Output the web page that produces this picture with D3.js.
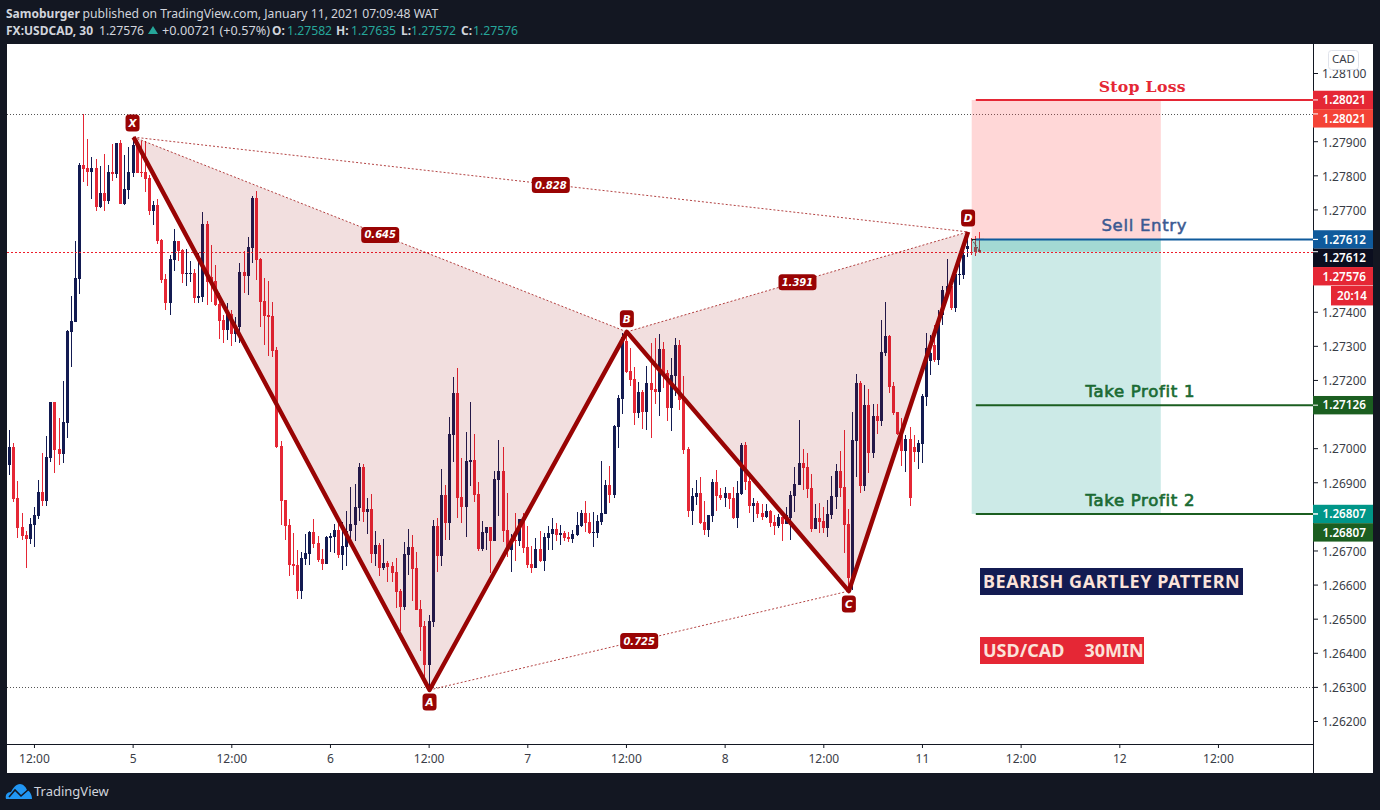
<!DOCTYPE html>
<html><head><meta charset="utf-8">
<style>html,body{margin:0;padding:0;background:#131722;overflow:hidden}svg{display:block}</style>
<script src="https://cdn.jsdelivr.net/npm/d3@7/dist/d3.min.js"></script></head><body>
<svg id="c" width="1380" height="810" xmlns="http://www.w3.org/2000/svg"></svg>
<script>
const highs=[1.27053,1.27015,1.26903,1.26810,1.26757,1.26795,1.26827,1.26907,1.26986,1.27036,
1.27135,1.27135,1.27088,1.27197,1.27346,1.27446,1.27607,1.27836,1.27980,1.27906,
1.27854,1.27848,1.27827,1.27862,1.27830,1.27892,1.27895,1.27904,1.27860,1.27883,
1.27912,1.27904,1.27901,1.27901,1.27801,1.27725,1.27731,1.27613,1.27511,1.27566,
1.27643,1.27607,1.27584,1.27584,1.27549,1.27525,1.27572,1.27692,1.27666,1.27596,
1.27537,1.27455,1.27390,1.27426,1.27405,1.27385,1.27543,1.27578,1.27619,1.27739,
1.27754,1.27558,1.27499,1.27490,1.27429,1.27297,1.27021,1.26848,1.26792,1.26751,
1.26702,1.26696,1.26748,1.26757,1.26792,1.26742,1.26705,1.26742,1.26751,1.26778,
1.26787,1.26784,1.26816,1.26886,1.26895,1.26956,1.26953,1.26854,1.26866,1.26757,
1.26722,1.26734,1.26669,1.26666,1.26678,1.26587,1.26725,1.26763,1.26745,1.26696,
1.26555,1.26493,1.26511,1.26789,1.26795,1.26939,1.26892,1.27091,1.27209,1.27235,
1.26971,1.27047,1.27135,1.27042,1.26901,1.26787,1.26769,1.26769,1.26933,1.27024,
1.27003,1.26869,1.26748,1.26810,1.26792,1.26810,1.26772,1.26713,1.26737,1.26757,
1.26751,1.26772,1.26795,1.26781,1.26775,1.26757,1.26754,1.26760,1.26813,1.26819,
1.26845,1.26810,1.26813,1.26804,1.26962,1.26907,1.26948,1.27068,1.27156,1.27338,
1.27338,1.27294,1.27238,1.27194,1.27171,1.27241,1.27308,1.27323,1.27335,1.27311,
1.27229,1.27264,1.27323,1.27317,1.27212,1.27003,1.26883,1.26907,1.26916,1.26845,
1.26804,1.26909,1.26936,1.26883,1.26886,1.26869,1.26886,1.26903,1.27015,1.27018,
1.26916,1.26854,1.26845,1.26836,1.26836,1.26819,1.26804,1.26807,1.26798,1.26827,
1.26874,1.26945,1.27083,1.26998,1.26986,1.26924,1.26836,1.26839,1.26827,1.26848,
1.26918,1.26953,1.26992,1.27053,1.26822,1.27106,1.27217,1.27197,1.27185,1.27174,
1.27129,1.27129,1.27376,1.27429,1.27332,1.27194,1.27106,1.27088,1.27039,1.27062,
1.27039,1.27024,1.27159,1.27338,1.27332,1.27361,1.27405,1.27475,1.27555,1.27493,
1.27525,1.27558,1.27599,1.27619,1.27616,1.27622,1.27635];
const lows=[1.26921,1.26842,1.26737,1.26731,1.26649,1.26719,1.26710,1.26792,1.26830,1.26830,
1.26959,1.26927,1.26950,1.26956,1.27030,1.27238,1.27370,1.27452,1.27780,1.27769,
1.27731,1.27695,1.27704,1.27695,1.27716,1.27783,1.27792,1.27716,1.27713,1.27731,
1.27795,1.27807,1.27795,1.27751,1.27684,1.27654,1.27599,1.27484,1.27405,1.27390,
1.27519,1.27549,1.27484,1.27475,1.27487,1.27426,1.27426,1.27429,1.27420,1.27429,
1.27417,1.27320,1.27308,1.27317,1.27300,1.27311,1.27308,1.27455,1.27449,1.27543,
1.27493,1.27355,1.27303,1.27270,1.27267,1.27000,1.26775,1.26731,1.26625,1.26628,
1.26558,1.26558,1.26658,1.26658,1.26707,1.26666,1.26643,1.26661,1.26696,1.26693,
1.26678,1.26643,1.26655,1.26728,1.26728,1.26787,1.26784,1.26748,1.26663,1.26655,
1.26625,1.26643,1.26608,1.26608,1.26531,1.26464,1.26525,1.26628,1.26552,1.26525,
1.26405,1.26329,1.26300,1.26476,1.26637,1.26655,1.26731,1.26731,1.26959,1.26795,
1.26781,1.26740,1.26889,1.26842,1.26699,1.26699,1.26702,1.26634,1.26728,1.26801,
1.26725,1.26681,1.26637,1.26669,1.26713,1.26693,1.26649,1.26634,1.26649,1.26666,
1.26640,1.26702,1.26702,1.26728,1.26716,1.26728,1.26725,1.26722,1.26742,1.26769,
1.26754,1.26748,1.26710,1.26737,1.26775,1.26807,1.26839,1.26854,1.27000,1.27100,
1.27220,1.27182,1.27068,1.27088,1.27056,1.27053,1.27030,1.27129,1.27094,1.27176,
1.27080,1.27050,1.27153,1.27112,1.26983,1.26798,1.26775,1.26834,1.26778,1.26745,
1.26740,1.26784,1.26816,1.26848,1.26827,1.26822,1.26792,1.26766,1.26863,1.26877,
1.26810,1.26784,1.26795,1.26789,1.26795,1.26769,1.26745,1.26766,1.26728,1.26778,
1.26731,1.26813,1.26892,1.26877,1.26854,1.26754,1.26763,1.26751,1.26751,1.26740,
1.26792,1.26822,1.26857,1.26693,1.26578,1.26584,1.26915,1.26869,1.26875,1.26927,
1.26971,1.27042,1.27065,1.27270,1.27162,1.27097,1.27039,1.26948,1.26930,1.26830,
1.26959,1.26939,1.26956,1.27123,1.27215,1.27253,1.27244,1.27361,1.27446,1.27405,
1.27399,1.27478,1.27496,1.27560,1.27566,1.27563,1.27572];
const opens=[1.26950,1.27003,1.26854,1.26769,1.26745,1.26734,1.26775,1.26801,1.26871,1.26845,
1.26971,1.27135,1.26998,1.26983,1.27074,1.27341,1.27370,1.27496,1.27830,1.27821,
1.27810,1.27821,1.27707,1.27748,1.27725,1.27810,1.27804,1.27895,1.27716,1.27757,
1.27807,1.27889,1.27810,1.27810,1.27792,1.27695,1.27713,1.27610,1.27496,1.27426,
1.27552,1.27607,1.27581,1.27511,1.27511,1.27514,1.27440,1.27443,1.27657,1.27502,
1.27490,1.27423,1.27376,1.27346,1.27393,1.27335,1.27355,1.27517,1.27505,1.27587,
1.27734,1.27555,1.27432,1.27390,1.27387,1.27288,1.27006,1.26848,1.26775,1.26661,
1.26658,1.26581,1.26675,1.26690,1.26754,1.26722,1.26675,1.26661,1.26737,1.26740,
1.26760,1.26687,1.26710,1.26757,1.26775,1.26825,1.26945,1.26813,1.26822,1.26690,
1.26716,1.26649,1.26663,1.26655,1.26637,1.26581,1.26534,1.26687,1.26710,1.26649,
1.26528,1.26479,1.26364,1.26490,1.26772,1.26684,1.26863,1.26781,1.27039,1.27162,
1.26857,1.26827,1.26959,1.26965,1.26866,1.26705,1.26751,1.26769,1.26728,1.26907,
1.26933,1.26760,1.26702,1.26731,1.26728,1.26792,1.26710,1.26661,1.26649,1.26705,
1.26669,1.26737,1.26748,1.26763,1.26745,1.26751,1.26740,1.26734,1.26745,1.26772,
1.26810,1.26784,1.26751,1.26751,1.26784,1.26807,1.26892,1.26863,1.27062,1.27144,
1.27314,1.27226,1.27203,1.27103,1.27165,1.27106,1.27191,1.27174,1.27165,1.27291,
1.27220,1.27118,1.27212,1.27303,1.27144,1.26998,1.26816,1.26857,1.26869,1.26784,
1.26760,1.26801,1.26901,1.26863,1.26854,1.26869,1.26854,1.26795,1.26866,1.27009,
1.26904,1.26830,1.26839,1.26810,1.26798,1.26816,1.26784,1.26772,1.26798,1.26778,
1.26795,1.26860,1.26892,1.26956,1.26945,1.26883,1.26763,1.26795,1.26787,1.26766,
1.26804,1.26857,1.26933,1.26886,1.26778,1.26619,1.27021,1.27191,1.26889,1.27127,
1.26986,1.27094,1.27080,1.27279,1.27329,1.27182,1.27106,1.27042,1.26992,1.27027,
1.27003,1.26989,1.27012,1.27150,1.27255,1.27303,1.27258,1.27390,1.27458,1.27475,
1.27411,1.27508,1.27508,1.27584,1.27575,1.27590,1.27582];
const closes=[1.27003,1.26851,1.26766,1.26742,1.26734,1.26778,1.26804,1.26871,1.26845,1.26974,
1.27135,1.26995,1.26983,1.27077,1.27343,1.27373,1.27499,1.27830,1.27818,1.27810,
1.27821,1.27707,1.27748,1.27725,1.27810,1.27804,1.27895,1.27716,1.27760,1.27810,
1.27889,1.27807,1.27807,1.27789,1.27695,1.27713,1.27607,1.27493,1.27426,1.27555,
1.27607,1.27578,1.27511,1.27514,1.27514,1.27440,1.27446,1.27657,1.27487,1.27487,
1.27420,1.27373,1.27346,1.27393,1.27335,1.27355,1.27517,1.27505,1.27590,1.27734,
1.27552,1.27429,1.27387,1.27385,1.27285,1.27003,1.26845,1.26772,1.26658,1.26655,
1.26581,1.26678,1.26693,1.26754,1.26719,1.26672,1.26661,1.26740,1.26742,1.26760,
1.26687,1.26713,1.26757,1.26778,1.26827,1.26945,1.26813,1.26822,1.26690,1.26716,
1.26649,1.26663,1.26652,1.26634,1.26578,1.26534,1.26690,1.26710,1.26646,1.26525,
1.26476,1.26364,1.26493,1.26772,1.26684,1.26863,1.26781,1.27042,1.27162,1.26854,
1.26827,1.26962,1.26965,1.26863,1.26705,1.26754,1.26769,1.26728,1.26909,1.26933,
1.26757,1.26702,1.26731,1.26728,1.26792,1.26707,1.26658,1.26649,1.26705,1.26669,
1.26740,1.26751,1.26763,1.26745,1.26751,1.26737,1.26734,1.26748,1.26775,1.26810,
1.26781,1.26751,1.26754,1.26787,1.26810,1.26892,1.26863,1.27065,1.27147,1.27326,
1.27223,1.27200,1.27103,1.27165,1.27106,1.27191,1.27171,1.27165,1.27291,1.27214,
1.27118,1.27214,1.27303,1.27141,1.26995,1.26816,1.26860,1.26869,1.26781,1.26760,
1.26804,1.26901,1.26860,1.26854,1.26869,1.26851,1.26795,1.26869,1.27009,1.26901,
1.26830,1.26839,1.26807,1.26798,1.26816,1.26781,1.26772,1.26798,1.26778,1.26804,
1.26863,1.26895,1.26956,1.26942,1.26880,1.26763,1.26795,1.26784,1.26766,1.26807,
1.26860,1.26933,1.26883,1.26775,1.26619,1.27024,1.27191,1.26889,1.27127,1.26986,
1.27094,1.27080,1.27282,1.27329,1.27179,1.27103,1.27042,1.26992,1.27027,1.26854,
1.26989,1.27015,1.27153,1.27294,1.27279,1.27258,1.27370,1.27464,1.27475,1.27411,
1.27511,1.27511,1.27566,1.27593,1.27572,1.27575,1.27576];

const patternNames=["X","A","B","C","D"];
const patternBars=[30,102,150,204,233];
const patternPrices=[1.27912,1.26291,1.27341,1.26581,1.27634];
const ratioLabels=["0.645","0.828","0.725","1.391"];
const ratioLegs=[[0,2],[0,4],[1,3],[2,4]];

const stopPrice=1.28021, entryPrice=1.27612, tp1Price=1.27126, tp2Price=1.26807, lastPrice=1.27576;
const highLine=1.2798, lowLine=1.263;
const posBars=[234,280];
const levelNames=["Stop Loss","Sell Entry","Take Profit 1","Take Profit 2"];
const levelPrices=[stopPrice,entryPrice,tp1Price,tp2Price];
const levelColors=["#e52735","#0f5a9c","#1b5e20","#1b5e20"];
const levelTextColors=["#e52735","#3b5a92","#1b6b33","#1b6b33"];

const tagTexts=["1.28021","1.28021","1.27612","1.27612","1.27576","1.27126","1.26807","1.26807"];
const tagPrices=[stopPrice,highLine,entryPrice,entryPrice,lastPrice,tp1Price,tp2Price,tp2Price];
const tagColors=["#e52735","#f44336","#0f5a9c","#0b0e1f","#e52735","#1b5e20","#009688","#1b5e20"];

const yTickValues=[1.281,1.279,1.278,1.277,1.274,1.273,1.272,1.27,1.269,1.267,1.266,1.265,1.264,1.263,1.262];
const xTickBars=[6,30,54,78,102,126,150,174,198,222,246,270,294];
const xTickLabels=["12:00","5","12:00","6","12:00","7","12:00","8","12:00","11","12:00","12","12:00"];

const L=7,R=1313,T=44,B=744,OUTER_R=1373,OUTER_B=773;
const x=d3.scaleLinear().domain([0,9]).range([9.7,46.7]);
const y=d3.scaleLinear().domain([1.281,1.262]).range([73,721]);
const UP="#131b52",DOWN="#e52735",PAT="#990404";
const F="'Noto Sans',sans-serif";

const svg=d3.select("#c");
svg.append("rect").attr("x",0).attr("y",0).attr("width",1380).attr("height",810).attr("fill","#131722");
svg.append("rect").attr("x",L).attr("y",T).attr("width",OUTER_R-L).attr("height",OUTER_B-T).attr("fill","#fff");

/* guide lines */
const guides=svg.append("g");
[[highLine,"#555","1 2"],[lowLine,"#555","1 2"]].forEach(([p,c,d])=>{
  guides.append("line").attr("x1",L).attr("x2",R).attr("y1",Math.round(y(p))+.5).attr("y2",Math.round(y(p))+.5)
    .attr("stroke",c).attr("stroke-width",1).attr("stroke-dasharray",d);
});

/* candles */
const bars=d3.range(closes.length);
const cg=svg.append("g").attr("shape-rendering","crispEdges");
const col=i=>closes[i]>=opens[i]?UP:DOWN;
cg.selectAll("rect.w").data(bars).join("rect").attr("class","w")
  .attr("x",i=>Math.floor(x(i))).attr("width",1)
  .attr("y",i=>y(highs[i])).attr("height",i=>y(lows[i])-y(highs[i])).attr("fill",col);
cg.selectAll("rect.b").data(bars).join("rect").attr("class","b")
  .attr("x",i=>Math.floor(x(i))-1).attr("width",3)
  .attr("y",i=>y(Math.max(opens[i],closes[i])))
  .attr("height",i=>Math.max(1,Math.abs(y(opens[i])-y(closes[i])))).attr("fill",col);

/* pattern */
const pts=patternBars.map((b,i)=>[x(b)+.5,y(patternPrices[i])]);
const pg=svg.append("g");
[[0,1,2],[2,3,4]].forEach(t=>{
  pg.append("path").attr("d",d3.line()(t.map(k=>pts[k]))+"Z").attr("fill","#990606").attr("fill-opacity",.13);
});
ratioLegs.forEach(([a,b])=>{
  pg.append("line").attr("x1",pts[a][0]).attr("y1",pts[a][1]).attr("x2",pts[b][0]).attr("y2",pts[b][1])
    .attr("stroke",PAT).attr("stroke-width",1).attr("stroke-opacity",.75).attr("stroke-dasharray","2 2");
});

/* position tool */
const px0=x(posBars[0]),px1=x(posBars[1]);
const zone=(a,b,c,o)=>svg.append("rect").attr("x",px0).attr("width",px1-px0)
  .attr("y",y(a)).attr("height",y(b)-y(a)).attr("fill",c).attr("fill-opacity",o);
zone(stopPrice,entryPrice,"#ff5252",.23);
zone(entryPrice,tp2Price,"#009688",.2);
zone(entryPrice,lastPrice,"#009688",.2);
svg.append("path").attr("d",d3.line()([[x(234),y(entryPrice)],[x(236)+1,y(lastPrice)+1]]))
  .attr("stroke","#444").attr("stroke-width",1).attr("stroke-dasharray","2 1").attr("fill","none");
svg.append("line").attr("x1",x(234)).attr("x2",x(237)).attr("y1",y(entryPrice)).attr("y2",y(entryPrice)).attr("stroke","#111");

/* current price line */
svg.append("line").attr("x1",L).attr("x2",R).attr("y1",Math.round(y(lastPrice))+.5).attr("y2",Math.round(y(lastPrice))+.5)
  .attr("stroke","#ee1c2a").attr("stroke-width",1).attr("stroke-dasharray","2 2");

pg.raise();
svg.append("path").attr("d",d3.line()(pts)).attr("fill","none").attr("stroke",PAT)
  .attr("stroke-width",4.4).attr("stroke-linejoin","round");

/* level lines */
const lv=svg.append("g");
const levelCx=[279.5,280,279,279];
levelPrices.forEach((p,i)=>{
  lv.append("line").attr("x1",x(235)).attr("x2",R).attr("y1",y(p)).attr("y2",y(p))
    .attr("stroke",levelColors[i]).attr("stroke-width",2);
  lv.append("text").attr("x",x(levelCx[i]-4)).attr("y",y(p)-8).attr("text-anchor","middle")
    .attr("font-family",i==0?"'DejaVu Serif',serif":"'DejaVu Sans',sans-serif")
    .attr("font-size",i==0?15.7:16.5).attr("font-weight",i==0?"700":"400").attr("letter-spacing",i==0?.3:.7)
    .attr("fill",levelTextColors[i]).attr("stroke",levelTextColors[i]).attr("stroke-width",i==0?0:(i==1?.5:.7)).text(levelNames[i]);
});

/* pattern labels */
const lg=svg.append("g");
const pill=(cx,cy,w,h,t,fs)=>{
  lg.append("rect").attr("x",cx-w/2).attr("y",cy-h/2).attr("width",w).attr("height",h).attr("rx",3.5).attr("fill",PAT);
  lg.append("text").attr("x",cx).attr("y",cy+fs*.36).attr("text-anchor","middle")
    .attr("font-family","'DejaVu Sans',sans-serif").attr("font-style","italic").attr("font-weight","700")
    .attr("font-size",fs).attr("fill","#fff").text(t);
};
const nameDy=[-14,12,-13,13,-14];
patternNames.forEach((n,i)=>pill(pts[i][0]-(i==0?1:0),pts[i][1]+nameDy[i],14,17,n,10.5));
ratioLegs.forEach(([a,b],i)=>pill((pts[a][0]+pts[b][0])/2,(pts[a][1]+pts[b][1])/2+.4,38,16,ratioLabels[i],10));

/* axes */
const yAxis=d3.axisRight(y).tickValues(yTickValues).tickFormat(d3.format(".5f")).tickSize(5).tickPadding(4);
const gy=svg.append("g").attr("transform",`translate(${R},0)`).call(yAxis);
gy.select(".domain").remove();
svg.append("line").attr("x1",R+.5).attr("x2",R+.5).attr("y1",T).attr("y2",OUTER_B).attr("stroke","#131722");
gy.selectAll("line").attr("stroke","#131722");
gy.selectAll("text").attr("font-family",F).attr("font-size",12).attr("fill","#3a3d47").attr("dy","0.4em");

const xAxis=d3.axisBottom(x).tickValues(xTickBars).tickFormat((d,i)=>xTickLabels[i]).tickSize(4).tickPadding(6);
const gx=svg.append("g").attr("transform",`translate(-.4,${B})`).call(xAxis);
gx.select(".domain").remove();
svg.append("line").attr("x1",L).attr("x2",R).attr("y1",B+.5).attr("y2",B+.5).attr("stroke","#131722");
gx.selectAll("line").attr("stroke","#131722");
gx.selectAll("text").attr("font-family",F).attr("font-size",12).attr("fill","#3a3d47");

/* price tags */
const tg=svg.append("g");
let prevY=-1e9;
const TH=18.4;
let lastTagY=0;
tagTexts.forEach((t,i)=>{
  const cy=Math.max(y(tagPrices[i]),prevY+TH); prevY=cy;
  if(i==4) lastTagY=cy;
  tg.append("rect").attr("x",R).attr("y",cy-TH/2).attr("width",OUTER_R-R).attr("height",TH).attr("fill",tagColors[i]);
  tg.append("line").attr("x1",R).attr("x2",R+5).attr("y1",y(tagPrices[i])).attr("y2",y(tagPrices[i])).attr("stroke","#fff");
  tg.append("text").attr("x",R+9.5).attr("y",cy+4.3).attr("font-family",F).attr("font-size",11.7).attr("font-weight",600)
    .attr("fill","#fff").text(t);
});
tg.append("rect").attr("x",1331).attr("y",lastTagY+TH/2+.5).attr("width",OUTER_R-1331).attr("height",19.5).attr("fill","#e52735");
tg.append("text").attr("x",1352).attr("y",lastTagY+TH/2+14.5).attr("text-anchor","middle").attr("font-family",F)
  .attr("font-size",11.7).attr("font-weight",600).attr("fill","#fff").text("20:14");

/* CAD box */
svg.append("rect").attr("x",1328.5).attr("y",50.5).attr("width",30).attr("height",19).attr("rx",3)
  .attr("fill","#fff").attr("fill-opacity",.9).attr("stroke","#e0e3eb");
svg.append("text").attr("x",1343.5).attr("y",63).attr("text-anchor","middle").attr("font-family",F).attr("font-size",11.5)
  .attr("fill","#3a3d47").text("CAD");

/* text boxes */
const box=(bx,by,w,h,c,t,ls,ws)=>{
  svg.append("rect").attr("x",bx).attr("y",by).attr("width",w).attr("height",h).attr("fill",c);
  svg.append("text").attr("x",bx+3).attr("y",by+h/2+6.2).attr("font-family",F).attr("font-weight",700)
    .attr("font-size",18).attr("letter-spacing",ls).attr("word-spacing",ws).attr("fill","#fbe3da").style("white-space","pre").text(t);
};
box(980,568,263,27,"#131b52","BEARISH GARTLEY PATTERN",.55,0);
box(980,637,164,27,"#e52735","USD/CAD   30MIN",0,2);

/* header */
const hd=svg.append("g").attr("font-family",F).attr("fill","#d1d4dc");
const ht=(tx,ty,s,o={})=>hd.append("text").attr("x",tx).attr("y",ty).attr("font-size",o.s||12.2).attr("font-weight",o.b?700:400)
  .attr("fill",o.c||"#d1d4dc").text(s);
ht(6,18,"Samoburger",{b:1,s:12});
ht(82.5,18,"published on TradingView.com, January 11, 2021 07:09:48 WAT");
ht(6,35,"FX:USDCAD, 30",{b:1,s:12});
ht(99,35,"1.27576");
hd.append("path").attr("d","M153 26L158 34H148Z").attr("fill","#26a69a");
ht(162,35,"+0.00721 (+0.57%)",{s:12.7});
ht(272,35,"O:",{b:1,s:12}); ht(287,35,"1.27582",{c:"#26a69a"});
ht(336,35,"H:",{b:1,s:12}); ht(351,35,"1.27635",{c:"#26a69a"});
ht(401,35,"L:",{b:1,s:12}); ht(411,35,"1.27572",{c:"#26a69a"});
ht(461,35,"C:",{b:1,s:12}); ht(473,35,"1.27576",{c:"#26a69a"});

/* logo */
svg.append("path").attr("d","M6 799C5 795 7 792 11 792C13 788 16 784 20 784C23 784 26 787 27 790C30 791 32 795 32 799Z").attr("fill","#2196f3");
svg.append("path").attr("d","M9 797L15 790L21 796L29 789").attr("fill","none").attr("stroke","#131722").attr("stroke-width",1.6);
svg.append("text").attr("x",34).attr("y",796).attr("font-family",F).attr("font-size",13).attr("fill","#d1d4dc").text("TradingView");
</script></body></html>
